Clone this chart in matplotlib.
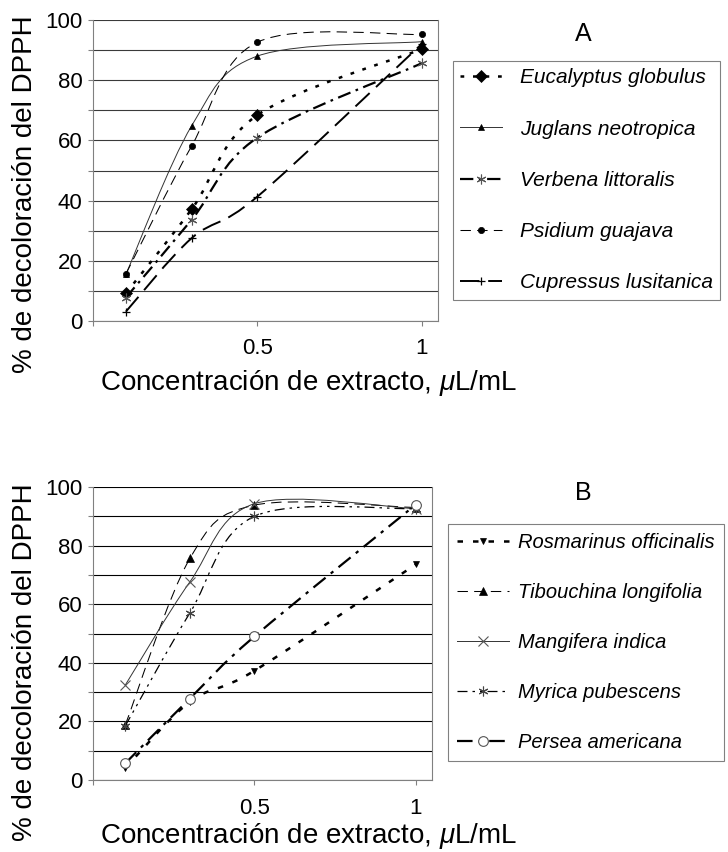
import numpy as np
import matplotlib
matplotlib.use('Agg')
import matplotlib.pyplot as plt
from matplotlib.path import Path
from matplotlib.patches import PathPatch
from matplotlib.lines import Line2D

plt.rcParams['font.family'] = ['Liberation Sans', 'DejaVu Sans']
plt.rcParams['mathtext.fontset'] = 'custom'
plt.rcParams['mathtext.it'] = 'Liberation Sans:italic'
plt.rcParams['mathtext.rm'] = 'Liberation Sans'

# concentraciones, uL/mL
conc = [0.1, 0.3, 0.5, 1.0]

# panel A
labels_a = ['Eucalyptus globulus', 'Juglans neotropica', 'Verbena littoralis',
            'Psidium guajava', 'Cupressus lusitanica']
eucalyptus = [9.2, 37.1, 68.4, 90.3]
juglans = [15.5, 64.8, 88.0, 92.8]
verbena = [7.8, 33.6, 60.9, 85.6]
psidium = [15.6, 58.1, 92.6, 95.2]
cupressus = [3.1, 27.5, 41.3, 92.0]

# panel B
labels_b = ['Rosmarinus officinalis', 'Tibouchina longifolia', 'Mangifera indica',
            'Myrica pubescens', 'Persea americana']
rosmarinus = [4.1, 26.7, 37.3, 73.6]
tibouchina = [18.8, 75.6, 93.8, 93.0]
mangifera = [32.4, 67.6, 94.3, 92.6]
myrica = [18.5, 57.0, 90.0, 92.6]
persea = [5.7, 27.8, 49.0, 94.0]

# estilos (ls, lw, color, marker, ms, mfc, mec, mew)
styles_a = [
    ((0, (1.5, 3.5)), 1.8, 'black', 'D', 6, 'black', 'black', 0.5),
    ('-', 0.7, '#333333', '^', 5, 'black', 'black', 0.5),
    ((0, (6, 2.5, 1.2, 2.5)), 1.6, 'black', (6, 2, 0), 7, 'none', '#555555', 0.8),
    ((0, (10, 6)), 0.75, 'black', 'o', 4.5, 'black', 'black', 0.5),
    ((0, (10, 4.5)), 1.4, 'black', '+', 6, 'black', 'black', 0.9),
]
styles_b = [
    ((0, (2.2, 4)), 1.8, 'black', 'v', 5, 'black', 'black', 0.5),
    ((0, (10, 6)), 0.75, 'black', '^', 6, 'black', 'black', 0.5),
    ('-', 0.7, '#333333', 'x', 7, 'none', '#555555', 0.8),
    ((0, (8, 4, 2, 4, 2, 4)), 0.9, 'black', (6, 2, 0), 7, 'none', '#444444', 0.8),
    ((0, (7, 3, 1.5, 3)), 1.6, 'black', 'o', 7, 'white', '#555555', 0.8),
]


def smooth_path(x, y):
    # curva suavizada tipo Excel (Bezier a traves de los puntos)
    pts = np.column_stack([x, y]).astype(float)
    n = len(pts)
    verts = [pts[0]]
    codes = [Path.MOVETO]
    for i in range(n - 1):
        p0 = pts[max(i - 1, 0)]
        p1 = pts[i]
        p2 = pts[i + 1]
        p3 = pts[min(i + 2, n - 1)]
        verts += [p1 + (p2 - p0) / 6, p2 - (p3 - p1) / 6, p2]
        codes += [Path.CURVE4] * 3
    return Path(verts, codes)


def make_panel(fig, rect, series, labels, styles, letter, letter_y, ylab_y, xlab_y,
               leg_xy, leg_size, leg_opts, grid_color):
    W, H = 728, 852
    ax = fig.add_axes(rect)
    handles = []
    for vals, lab, st in zip(series, labels, styles):
        ls, lw, col, mk, ms, mfc, mec, mew = st
        ax.add_patch(PathPatch(smooth_path(conc, vals), fill=False, edgecolor=col,
                               lw=lw, linestyle=ls, zorder=3))
        ax.plot(conc, vals, ls='none', marker=mk, ms=ms, mfc=mfc, mec=mec, mew=mew,
                zorder=4, clip_on=False)
        handles.append(Line2D([], [], color=col, lw=lw, linestyle=ls, marker=mk, ms=ms,
                              mfc=mfc, mec=mec, mew=mew, label=lab))

    ax.set_xlim(0, 1.05)
    ax.set_ylim(0, 100)
    ax.set_yticks(np.arange(0, 101, 20))
    ax.set_yticks(np.arange(10, 100, 20), minor=True)
    ax.set_xticks([0.5, 1.0])
    ax.set_xticklabels(['0.5', '1'])
    ax.set_xticks([0.0], minor=True)
    ax.grid(True, axis='y', which='both', color=grid_color, lw=0.8)
    ax.set_axisbelow(True)
    for s in ['left', 'right', 'bottom']:
        ax.spines[s].set_color('#808080')
        ax.spines[s].set_linewidth(0.8)
    ax.spines['top'].set_visible(False)
    ax.tick_params(axis='both', which='both', direction='out', length=3.6,
                   color='#808080', width=0.8, labelsize=16)
    ax.tick_params(axis='y', pad=4)
    ax.tick_params(axis='x', pad=9)

    fig.text(583 / W, 1 - letter_y / H, letter, ha='center', va='center', fontsize=18)
    fig.text(25 / W, 1 - ylab_y / H, '% de decoloración del DPPH', rotation=90,
             ha='center', va='center', fontsize=20)
    fig.text(100 / W, 1 - xlab_y / H, 'Concentración de extracto, $\\mu$L/mL',
             ha='left', va='baseline', fontsize=20)

    leg = ax.legend(handles=handles, loc='upper left',
                    bbox_to_anchor=(leg_xy[0] / W, 1 - leg_xy[1] / H),
                    bbox_transform=fig.transFigure, borderaxespad=0,
                    prop={'style': 'italic', 'size': leg_size}, fancybox=False,
                    edgecolor='#808080', framealpha=1, **leg_opts)
    leg.get_frame().set_linewidth(0.8)
    return ax


fig = plt.figure(figsize=(7.28, 8.52), dpi=100)

make_panel(fig, [93 / 728, 1 - 321 / 852, 345 / 728, 301 / 852],
           [eucalyptus, juglans, verbena, psidium, cupressus], labels_a, styles_a,
           'A', 34, 194, 390, (453, 61), 15,
           dict(labelspacing=1.55, handlelength=2.0, handletextpad=0.87, borderpad=0.35),
           '#3a3a3a')

make_panel(fig, [93 / 728, 1 - 780 / 852, 339 / 728, 293 / 852],
           [rosmarinus, tibouchina, mangifera, myrica, persea], labels_b, styles_b,
           'B', 493, 662, 843, (448, 524), 14.5,
           dict(labelspacing=1.54, handlelength=2.6, handletextpad=0.45, borderpad=0.45),
           '#000000')

fig.savefig('out.png', dpi=100)
plt.close(fig)
